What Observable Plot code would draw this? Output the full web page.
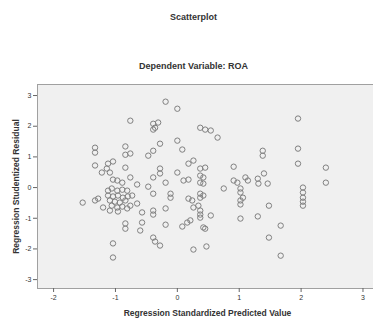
<!DOCTYPE html>
<html><head><meta charset="utf-8">
<script src="https://cdn.jsdelivr.net/npm/d3@7"></script>
<script src="https://cdn.jsdelivr.net/npm/@observablehq/plot@0.6"></script>
<style>body{margin:0;background:#fff;}</style>
</head><body><div id="chart"></div>
<script>
const titleText = "Scatterplot";
const subtitleText = "Dependent Variable: ROA";
const xLabel = "Regression Standardized Predicted Value";
const yLabel = "Regression Studentized Residual";
const xTicks = [-2, -1, 0, 1, 2, 3];
const yTicks = [-3, -2, -1, 0, 1, 2, 3];

const predicted = [
-0.19, 0.00, -0.76, -0.39, -0.36, -0.31, -0.39, 0.37, 0.45, 0.54,
0.65, 0.00, -0.28, -0.84, -0.39, 0.08, -0.76, -0.84, -0.47, 0.26,
0.18, -1.04, -1.33, -1.33, -1.33, -1.12, -1.14, -1.09, -1.22, -0.84,
-0.28, 0.00, 0.37, 0.45, 0.37, 0.42, 0.91, -1.04, -0.97, -0.89,
-0.76, -0.39, -0.28, -0.19, 0.10, 0.18, 0.37, 0.42, -0.65, -0.47,
-0.11, -0.39, 0.75, 0.97, 0.18, 0.24, 0.37, 0.42, 0.37, -0.11,
-0.65, -0.57, -0.39, -0.39, -0.19, -0.57, -0.84, -0.84, -0.19, 0.08,
0.16, 0.21, 0.37, 0.37, 0.34, 0.45, 0.54, 0.26, -0.39, -0.36,
-0.28, -1.04, -1.04, 0.26, 0.47, -0.60,
1.95, 1.95, 1.95, 1.38, 1.38, 2.40, 2.40, 0.91, 1.10, 1.14,
1.30, 1.31, 1.40, 2.03, 2.03, 2.03, 2.03, 2.03, 1.02, 1.02,
1.06, 1.02, 1.02, 1.02, 1.48, 1.30, 1.67, 1.48, 1.67, 1.46,
0.37, 0.42,
-1.53, -1.33, -1.20, -1.28,
-1.12, -1.06, -0.97, -0.89, -0.81, -1.12, -1.04, -0.96, -0.88, -0.80,
-1.09, -1.01, -0.93, -0.84, -1.06, -0.97, -0.89, -0.81, -1.09, -0.96,
-0.73, -0.76
];
const residual = [
2.80, 2.57, 2.18, 2.08, 1.95, 2.12, 1.89, 1.95, 1.89, 1.86,
1.63, 1.53, 1.43, 1.34, 1.20, 1.24, 1.11, 1.07, 1.04, 0.88,
0.78, 0.85, 1.30, 1.14, 0.72, 0.78, 0.62, 0.49, 0.49, 0.65,
0.62, 0.49, 0.62, 0.65, 0.39, 0.33, 0.68, 0.26, 0.23, 0.16,
0.33, 0.33, 0.46, 0.16, 0.23, 0.26, 0.16, 0.13, 0.10, 0.03,
-0.20, -0.20, -0.03, 0.16, -0.36, -0.42, -0.20, -0.26, -0.33, -0.33,
-0.52, -0.81, -0.75, -0.88, -0.68, -1.14, -1.17, -1.34, -1.21, -1.27,
-1.14, -1.07, -0.75, -0.88, -0.59, -1.34, -0.91, -0.65, -1.63, -1.76,
-1.89, -1.82, -2.28, -2.02, -1.92, -1.40,
2.25, 1.27, 0.78, 1.20, 1.04, 0.65, 0.16, 0.23, 0.33, 0.23,
0.29, 0.13, 0.46, 0.00, -0.16, -0.33, -0.46, -0.59, -0.03, -0.16,
-0.33, -0.42, -0.55, -1.01, -0.59, -0.94, -1.24, -1.63, -2.22, 0.13,
-0.98, -1.30,
-0.49, -0.42, -0.65, -0.36,
-0.10, -0.03, -0.10, -0.07, -0.10, -0.26, -0.29, -0.26, -0.33, -0.29,
-0.42, -0.46, -0.49, -0.42, -0.59, -0.65, -0.62, -0.68, -0.75, -0.78,
-0.26, -0.59
];

const data = predicted.map((x, i) => ({x, y: residual[i]}));
const fmt = d => String(d);

const chart = Plot.plot({
  width: 373, height: 322,
  marginLeft: 37, marginRight: 0, marginTop: 84, marginBottom: 34,
  style: {fontFamily: "'Liberation Sans', Arial, sans-serif", background: "#fff", color: "#333"},
  x: {domain: [-2.26, 3.17]},
  y: {domain: [-3.29, 3.36]},
  marks: [
    Plot.frame({fill: "#f0f0f0", stroke: "#a0a0a0"}),
    Plot.dot(data, {x: "x", y: "y", r: 2.7, stroke: "#808080", strokeWidth: 1, fill: "none"}),
    Plot.axisX(xTicks, {tickSize: 4, tickPadding: 3, fontSize: 7, tickFormat: fmt, label: null, stroke: "#666"}),
    Plot.axisY(yTicks, {tickSize: 4, tickPadding: 2, fontSize: 7, tickFormat: fmt, label: null, stroke: "#666"}),
    Plot.text([titleText], {text: d => d, frameAnchor: "top", dy: -67, dx: -12, textAnchor: "middle", lineAnchor: "middle", fontSize: 9, fontWeight: "bold", fill: "#333"}),
    Plot.text([subtitleText], {text: d => d, frameAnchor: "top", dy: -18, dx: -12, textAnchor: "middle", lineAnchor: "middle", fontSize: 9, fontWeight: "bold", fill: "#333"}),
    Plot.text([xLabel], {text: d => d, frameAnchor: "bottom", dy: 25, dx: 2, textAnchor: "middle", lineAnchor: "middle", fontSize: 8.5, fontWeight: "bold", fill: "#333"}),
    Plot.text([yLabel], {text: d => d, frameAnchor: "left", dx: -21, rotate: -90, textAnchor: "middle", lineAnchor: "middle", fontSize: 8.5, fontWeight: "bold", fill: "#333"})
  ]
});
document.getElementById("chart").append(chart);
</script>
</body></html>
